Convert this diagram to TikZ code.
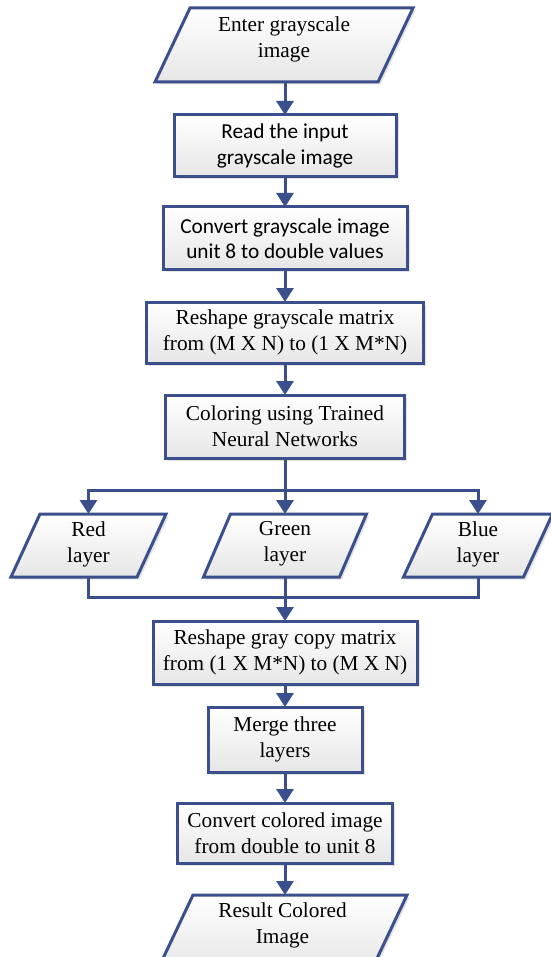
\documentclass[tikz,border=0pt]{standalone}
\usepackage{fontspec}
\setmainfont{Liberation Serif}
\newfontfamily\calibrifont{Carlito}
\usetikzlibrary{arrows.meta,shadows,calc,backgrounds}
\definecolor{flowblue}{RGB}{59,79,140}
\definecolor{boxlow}{RGB}{230,230,230}

\begin{document}
\begin{tikzpicture}[x=1pt,y=-1pt,
  flowline/.style={draw=flowblue,line width=3pt},
  flowarrow/.style={flowline,-{Triangle[width=17pt,length=14pt]}},
  boxfill/.style={draw=flowblue,line width=3pt,top color=white,bottom color=boxlow,
    drop shadow={opacity=0.22,shadow xshift=2.5pt,shadow yshift=-2.5pt}},
  serifnode/.style={font=\fontsize{21.3}{26}\selectfont},
  calnode/.style={font=\calibrifont\fontsize{21.3}{25.5}\selectfont},
  procbox/.style={boxfill,rectangle,outer sep=0pt,inner sep=0pt,align=center},
  iobox/.style={rectangle,outer sep=0pt,inner sep=0pt},
  iolabel/.style={serifnode,align=center,inner sep=0pt},
  slantbox/.style={boxfill,line join=miter}
]
\useasboundingbox (0,0) rectangle (550,957);

% main chain
\node[iobox,minimum width=223pt,minimum height=74pt,
  label={[iolabel,yshift=6pt]center:{Enter grayscale\\image}}] (enter) at (284,45) {};
\node[procbox,calnode,minimum width=222pt,minimum height=62pt] (read) at (285,146) {Read the input\\grayscale image};
\node[procbox,calnode,minimum width=244pt,minimum height=63pt] (todouble) at (285,238.5) {Convert grayscale image\\unit 8 to double values};
\node[procbox,serifnode,minimum width=277pt,minimum height=61pt] (flatten) at (285,332.5) {Reshape grayscale matrix\\from (M X N) to (1 X M*N)};
\node[procbox,serifnode,minimum width=239pt,minimum height=63pt] (nn) at (285,426.5) {Coloring using Trained\\Neural Networks};

% colour layers
\node[iobox,minimum width=126pt,minimum height=63pt,
  label={[iolabel,yshift=1.5pt]center:{Red\\layer}}] (red) at (88.5,545.5) {};
\node[iobox,minimum width=136pt,minimum height=63pt,
  label={[iolabel,yshift=1.5pt]center:{Green\\layer}}] (green) at (285,545.5) {};
\node[iobox,minimum width=120pt,minimum height=63pt,
  label={[iolabel,yshift=1.5pt]center:{Blue\\layer}}] (blue) at (478,545.5) {};

% second half
\node[procbox,serifnode,minimum width=264pt,minimum height=63pt] (unflat) at (285,652.5) {Reshape gray copy matrix\\from (1 X M*N) to (M X N)};
\node[procbox,serifnode,minimum width=154pt,minimum height=65pt] (merge) at (285,739.5) {Merge three\\layers};
\node[procbox,serifnode,minimum width=215pt,minimum height=60pt] (touint) at (285,833) {Convert colored image\\from double to unit 8};
\node[iobox,minimum width=214pt,minimum height=74pt,
  label={[iolabel,yshift=7pt]center:{Result Colored\\Image}}] (result) at (282.5,932) {};

% slanted input/output outlines behind their labels
\begin{pgfonlayer}{background}
  \foreach \n/\s in {enter/35,red/29,green/27,blue/29,result/35}{
    \path[slantbox] ($(\n.south west)+(-\s/2,0)$) -- ($(\n.north west)+(\s/2,0)$)
      -- ($(\n.north east)+(\s/2,0)$) -- ($(\n.south east)+(-\s/2,0)$) -- cycle;
  }
\end{pgfonlayer}

% connectors
\coordinate (split) at (285,490);
\coordinate (join) at (285,597);

\draw[flowarrow] (enter.south -| read.north) -- (read.north);
\draw[flowarrow] (read.south) -- (todouble.north);
\draw[flowarrow] (todouble.south) -- (flatten.north);
\draw[flowarrow] (flatten.south) -- (nn.north);
\draw[flowarrow] (nn.south) -- (green.north);
\draw[flowarrow] (split) -| (red.north);
\draw[flowarrow] (split) -| (blue.north);
\draw[flowline] (red.south) |- (join);
\draw[flowline] (blue.south) |- (join);
\draw[flowarrow] (green.south) -- (unflat.north);
\draw[flowarrow] (unflat.south) -- (merge.north);
\draw[flowarrow] (merge.south) -- (touint.north);
\draw[flowarrow] (touint.south) -- (touint.south |- result.north);
\end{tikzpicture}
\end{document}
